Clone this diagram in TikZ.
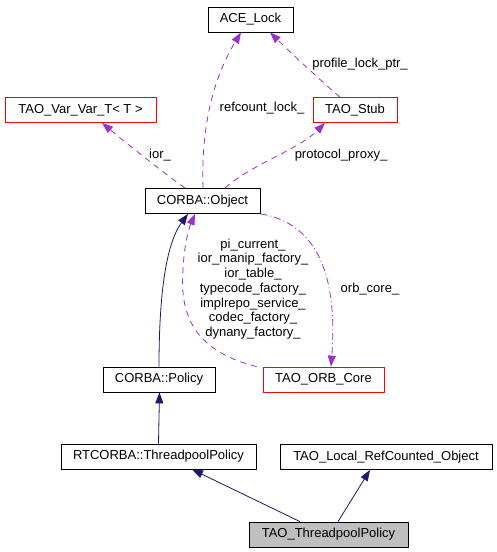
\documentclass[tikz,border=0pt]{standalone}
\usepackage{fontspec}
\setmainfont{Liberation Sans}
\usetikzlibrary{arrows.meta}
\definecolor{edgepurple}{HTML}{9A32CD}
\definecolor{edgenavy}{HTML}{191970}
\definecolor{focusgray}{HTML}{BFBFBF}
\begin{document}
\begin{tikzpicture}[x=1pt,y=-1pt,
  font=\fontsize{13}{14.7}\selectfont,
  box/.style={draw=black,line width=0.8pt,rectangle,inner sep=0pt,minimum height=25pt,anchor=center},
  redbox/.style={box,draw=red},
  tip/.style={-{Triangle[length=11pt,width=8pt]}},
  usage/.style={tip,draw=edgepurple,line width=0.8pt,dash pattern=on 6pt off 5pt},
  usagedot/.style={tip,draw=edgepurple,line width=0.8pt,dash pattern=on 7pt off 3pt on 1pt off 3pt},
  inherit/.style={tip,draw=edgenavy,line width=0.8pt},
  lbl/.style={inner sep=0pt,align=center}
]
\useasboundingbox (0,0) rectangle (496,552);
\fill[white] (0,0) rectangle (496,552);

\node[box,minimum width=85pt] (ace) at (250.5,19.5) {ACE\_Lock};
\node[redbox,minimum width=151pt] (var) at (80.5,110) {TAO\_Var\_Var\_T< T >};
\node[redbox,minimum width=84pt] (stub) at (355,110) {TAO\_Stub};
\node[box,minimum width=115pt] (obj) at (202.5,201) {CORBA::Object};
\node[box,minimum width=112pt] (policy) at (159,379.5) {CORBA::Policy};
\node[redbox,minimum width=121pt] (orb) at (323.5,379.5) {TAO\_ORB\_Core};
\node[box,minimum width=195pt] (rt) at (158.5,456.5) {RTCORBA::ThreadpoolPolicy};
\node[box,minimum width=212pt] (local) at (386,457) {TAO\_Local\_RefCounted\_Object};
\node[box,fill=focusgray,minimum width=159pt] (tp) at (328.5,534.5) {TAO\_ThreadpoolPolicy};

% usage edges
\draw[usage] ([xshift=-17.5pt]obj.north) .. controls (160,170) and (125,142) .. ([xshift=21.5pt]var.south);
\node[lbl] (l1) at (160,155) {ior\_};

\draw[usage] ([xshift=0.5pt]obj.north) .. controls (201,130) and (212,80) .. ([xshift=-9.5pt]ace.south);
\node[lbl] (l2) at (262,108) {refcount\_lock\_};

\draw[usage] ([xshift=22.5pt]obj.north) .. controls (250,165) and (298,150) .. ([xshift=-30pt]stub.south);
\node[lbl] (l3) at (341,155) {protocol\_proxy\_};

\draw[usage] ([xshift=-15pt]stub.north) .. controls (320,80) and (290,52) .. ([xshift=19.5pt]ace.south);
\node[lbl] (l4) at (360,64) {profile\_lock\_ptr\_};

\draw[usagedot] (obj.south east) .. controls (330,225) and (336,300) .. ([xshift=7.5pt]orb.north);
\node[lbl] (l5) at (370,289) {orb\_core\_};

\draw[usage] ([xshift=-6pt]orb.north west) .. controls (190,350) and (180,310) .. (183,270) .. controls (184,245) and (189,228) .. ([xshift=-7.5pt]obj.south);
\node[lbl] (l6) at (253,289) {pi\_current\_\\ior\_manip\_factory\_\\ior\_table\_\\typecode\_factory\_\\implrepo\_service\_\\codec\_factory\_\\dynany\_factory\_};

% inheritance edges
\draw[inherit] (policy.north) .. controls (159,300) and (165,245) .. ([xshift=-14.5pt]obj.south);
\draw[inherit] (rt.north) -- ([xshift=0.5pt]policy.south);
\draw[inherit] ([xshift=-28.5pt]tp.north) -- ([xshift=33.5pt]rt.south);
\draw[inherit] ([xshift=9.5pt]tp.north) -- ([xshift=-16pt]local.south);
\end{tikzpicture}
\end{document}
